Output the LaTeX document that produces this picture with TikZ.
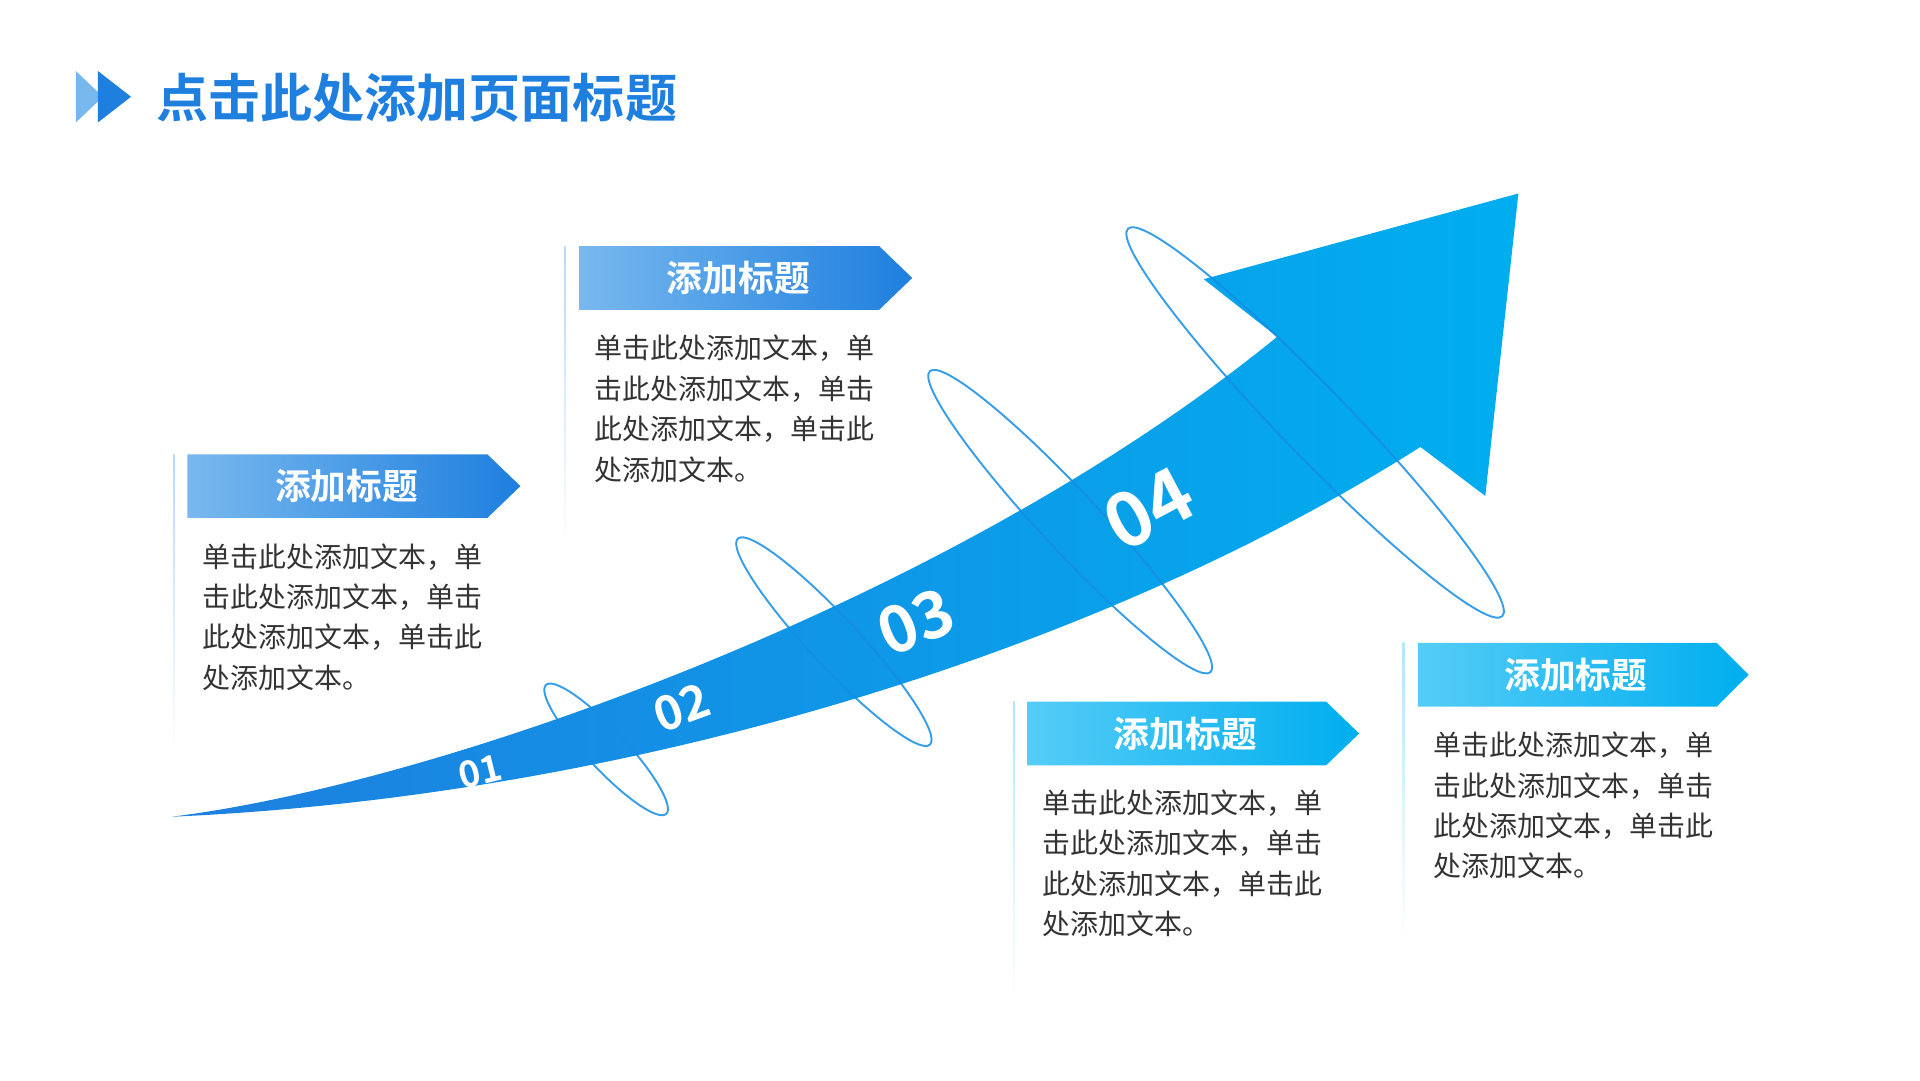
\documentclass[tikz,border=0pt]{standalone}
\usepackage{fontspec}
\setmainfont{Noto Sans}
\newfontfamily\cjk{Noto Sans CJK SC}
\newfontfamily\cjkb{Noto Sans CJK SC Bold}
\usetikzlibrary{shapes.geometric,calc}
\definecolor{dblue}{HTML}{1E7FDF}
\definecolor{cyanb}{HTML}{00AEEF}
\definecolor{lblue}{HTML}{78B8EE}
\definecolor{lcyan}{HTML}{55CCF7}
\definecolor{txt}{HTML}{333333}
\tikzset{
 body/.style={anchor=north west,align=left,font=\cjk\fontsize{6.5}{9.4}\selectfont,text=txt,inner sep=0},
 head/.style={font=\cjkb\fontsize{8.3}{9}\selectfont,text=white},
 num/.style={text=white},
 ring/.style={draw=dblue!70!cyanb,line width=0.45pt,opacity=0.85},
}
\newcommand{\bodytext}{单击此处添加文本，单\\击此处添加文本，单击\\此处添加文本，单击此\\处添加文本。}
\begin{document}
\begin{tikzpicture}[x=0.1mm,y=-0.1mm]
\useasboundingbox (0,0) rectangle (1568,882);
% title
\fill[lblue] (62,58) -- (84,79) -- (62,100) -- cycle;
\fill[dblue] (80,58) -- (107,79) -- (80,100) -- cycle;
\node[anchor=west,text=dblue,font=\cjkb\fontsize{12.1}{13}\selectfont,inner sep=0] (title) at (127,80) {点击此处添加页面标题};
% arrow
\path[left color=dblue,right color=cyanb] (140,667) .. controls (360,640) and (780,490) .. (1043,275) -- (983,228) -- (1240,158) -- (1213,405) -- (1160,365) .. controls (900,530) and (520,650) .. cycle;
% rings
\draw[ring] (495,612) ellipse [x radius=72,y radius=16,rotate=-47];
\draw[ring] (681,524) ellipse [x radius=115,y radius=20,rotate=-47];
\draw[ring] (874,426) ellipse [x radius=168,y radius=24,rotate=-47];
\draw[ring] (1074,345) ellipse [x radius=220,y radius=28,rotate=-46];
% numbers
\node[num,font=\cjkb\fontsize{8.5}{9}\selectfont,rotate=14] (n1) at (392,630) {01};
\node[num,font=\cjkb\fontsize{11}{12}\selectfont,rotate=20] (n2) at (557,578) {02};
\node[num,font=\cjkb\fontsize{15}{16}\selectfont,rotate=22] (n3) at (748,508) {03};
\node[num,font=\cjkb\fontsize{17.5}{18}\selectfont,rotate=28] (n4) at (938,415) {04};
% callout 1
\shade[top color=dblue!30,bottom color=white] (141.5,371) rectangle (143,620);
\path[left color=lblue,right color=dblue] (153,371) -- (398,371) -- (425,397) -- (398,423) -- (153,423) -- cycle;
\node[head] (h1) at (283,397) {添加标题};
\node[body] (b1) at (165,443) {\bodytext};
% callout 2
\shade[top color=dblue!30,bottom color=white] (460.5,201) rectangle (462,450);
\path[left color=lblue,right color=dblue] (473,201) -- (718,201) -- (745,227) -- (718,253) -- (473,253) -- cycle;
\node[head] (h2) at (603,227) {添加标题};
\node[body] (b2) at (485,273) {\bodytext};
% callout 3
\shade[top color=cyanb!30,bottom color=white] (827.5,573) rectangle (829,820);
\path[left color=lcyan,right color=cyanb] (839,573) -- (1083,573) -- (1110,599) -- (1083,625) -- (839,625) -- cycle;
\node[head] (h3) at (968,599) {添加标题};
\node[body] (b3) at (851,644) {\bodytext};
% callout 4
\shade[top color=cyanb!30,bottom color=white] (1145.5,525) rectangle (1147,770);
\path[left color=lcyan,right color=cyanb] (1158,525) -- (1402,525) -- (1428,551) -- (1402,577) -- (1158,577) -- cycle;
\node[head] (h4) at (1287,551) {添加标题};
\node[body] (b4) at (1170,597) {\bodytext};
\end{tikzpicture}
\end{document}
